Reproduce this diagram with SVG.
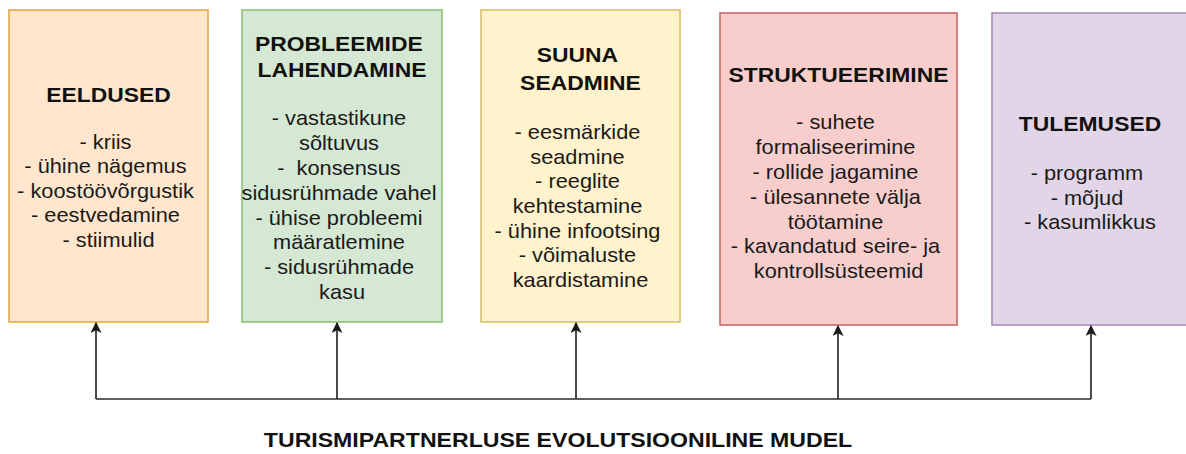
<svg xmlns="http://www.w3.org/2000/svg" width="1186" height="454" viewBox="0 0 1186 454">
  <style>
    .box { stroke-width: 1.6; }
    .title { font-family: "Liberation Sans", Arial, sans-serif; font-size: 21px; font-weight: bold; fill: #111; text-anchor: middle; }
    .body { font-family: "Liberation Sans", Arial, sans-serif; font-size: 20px; fill: #1a1a1a; text-anchor: middle; }
    .caption { font-family: "Liberation Sans", Arial, sans-serif; font-size: 21px; font-weight: bold; fill: #111; text-anchor: middle; }
    .link { fill: none; stroke: #2b2b2b; stroke-width: 1.7; }
  </style>
  <defs>
    <marker id="arrow" viewBox="0 0 10 10" refX="9" refY="5" markerWidth="11" markerHeight="11" markerUnits="userSpaceOnUse" orient="auto">
      <path d="M0,0 L10,5 L0,10 L2.5,5 Z" fill="#1a1a1a"/>
    </marker>
  </defs>
  <rect width="1186" height="454" fill="#ffffff"/>

  <!-- stage 1 -->
  <g id="eeldused">
    <rect class="box" x="9" y="10" width="199" height="312" fill="#ffe6cc" stroke="#e0aa45"/>
    <text class="title" transform="translate(108.5 0) scale(1.09 1)" x="0" y="102.5">EELDUSED</text>
    <text class="body" transform="translate(108.5 0) scale(1.09 1)" y="149">
      <tspan x="0">- kriis</tspan>
      <tspan x="0" dy="24.5">- ühine nägemus</tspan>
      <tspan x="0" dy="24.5">- koostöövõrgustik</tspan>
      <tspan x="0" dy="24.5">- eestvedamine</tspan>
      <tspan x="0" dy="24.5">- stiimulid</tspan>
    </text>
  </g>

  <!-- stage 2 -->
  <g id="probleemide-lahendamine">
    <rect class="box" x="242" y="10" width="200" height="312" fill="#d5e8d4" stroke="#8fbf76"/>
    <text class="title" transform="translate(342 0) scale(1.09 1)" y="51">
      <tspan x="0">PROBLEEMIDE</tspan>
      <tspan x="0" dy="26.5">LAHENDAMINE</tspan>
    </text>
    <text class="body" transform="translate(342 0) scale(1.09 1)" y="125">
      <tspan x="0">- vastastikune</tspan>
      <tspan x="0" dy="24.9">sõltuvus</tspan>
      <tspan x="0" dy="24.9">-&#160; konsensus</tspan>
      <tspan x="0" dy="24.9">sidusrühmade vahel</tspan>
      <tspan x="0" dy="24.9">- ühise probleemi</tspan>
      <tspan x="0" dy="24.9">määratlemine</tspan>
      <tspan x="0" dy="24.9">- sidusrühmade</tspan>
      <tspan x="0" dy="24.9">kasu</tspan>
    </text>
  </g>

  <!-- stage 3 -->
  <g id="suuna-seadmine">
    <rect class="box" x="481" y="10" width="199" height="312" fill="#fff2cc" stroke="#dcc068"/>
    <text class="title" transform="translate(580.5 0) scale(1.09 1)" y="62.5">
      <tspan x="0">SUUNA</tspan>
      <tspan x="0" dy="28">SEADMINE</tspan>
    </text>
    <text class="body" transform="translate(580.5 0) scale(1.09 1)" y="139">
      <tspan x="0">- eesmärkide</tspan>
      <tspan x="0" dy="24.7">seadmine</tspan>
      <tspan x="0" dy="24.7">- reeglite</tspan>
      <tspan x="0" dy="24.7">kehtestamine</tspan>
      <tspan x="0" dy="24.7">- ühine infootsing</tspan>
      <tspan x="0" dy="24.7">- võimaluste</tspan>
      <tspan x="0" dy="24.7">kaardistamine</tspan>
    </text>
  </g>

  <!-- stage 4 -->
  <g id="struktueerimine">
    <rect class="box" x="720" y="13" width="237" height="312" fill="#f8cecc" stroke="#c96a66"/>
    <text class="title" transform="translate(838.5 0) scale(1.09 1)" x="0" y="82.5">STRUKTUEERIMINE</text>
    <text class="body" transform="translate(838.5 0) scale(1.09 1)" y="129">
      <tspan x="0">- suhete</tspan>
      <tspan x="0" dy="24.9">formaliseerimine</tspan>
      <tspan x="0" dy="24.9">- rollide jagamine</tspan>
      <tspan x="0" dy="24.9">- ülesannete välja</tspan>
      <tspan x="0" dy="24.9">töötamine</tspan>
      <tspan x="0" dy="24.9">- kavandatud seire- ja</tspan>
      <tspan x="0" dy="24.9">kontrollsüsteemid</tspan>
    </text>
  </g>

  <!-- stage 5 -->
  <g id="tulemused">
    <rect class="box" x="992" y="13" width="200" height="312" fill="#e1d5e7" stroke="#a98bb8"/>
    <text class="title" transform="translate(1090 0) scale(1.09 1)" x="0" y="131">TULEMUSED</text>
    <text class="body" transform="translate(1090 0) scale(1.09 1)" y="180.5">
      <tspan x="0">- programm</tspan>
      <tspan x="0" dy="24.3">- mõjud</tspan>
      <tspan x="0" dy="24.3">- kasumlikkus</tspan>
    </text>
  </g>

  <!-- shared base line feeding every stage -->
  <g id="connectors">
    <path class="link" d="M96,399 H1091"/>
    <path class="link" d="M96,399 V323" marker-end="url(#arrow)"/>
    <path class="link" d="M337,399 V323" marker-end="url(#arrow)"/>
    <path class="link" d="M576,399 V323" marker-end="url(#arrow)"/>
    <path class="link" d="M838,399 V326" marker-end="url(#arrow)"/>
    <path class="link" d="M1091,399 V326" marker-end="url(#arrow)"/>
  </g>

  <g id="caption">
    <text class="caption" transform="translate(558 0) scale(1.1 1)" x="0" y="447">TURISMIPARTNERLUSE EVOLUTSIOONILINE MUDEL</text>
  </g>
</svg>
